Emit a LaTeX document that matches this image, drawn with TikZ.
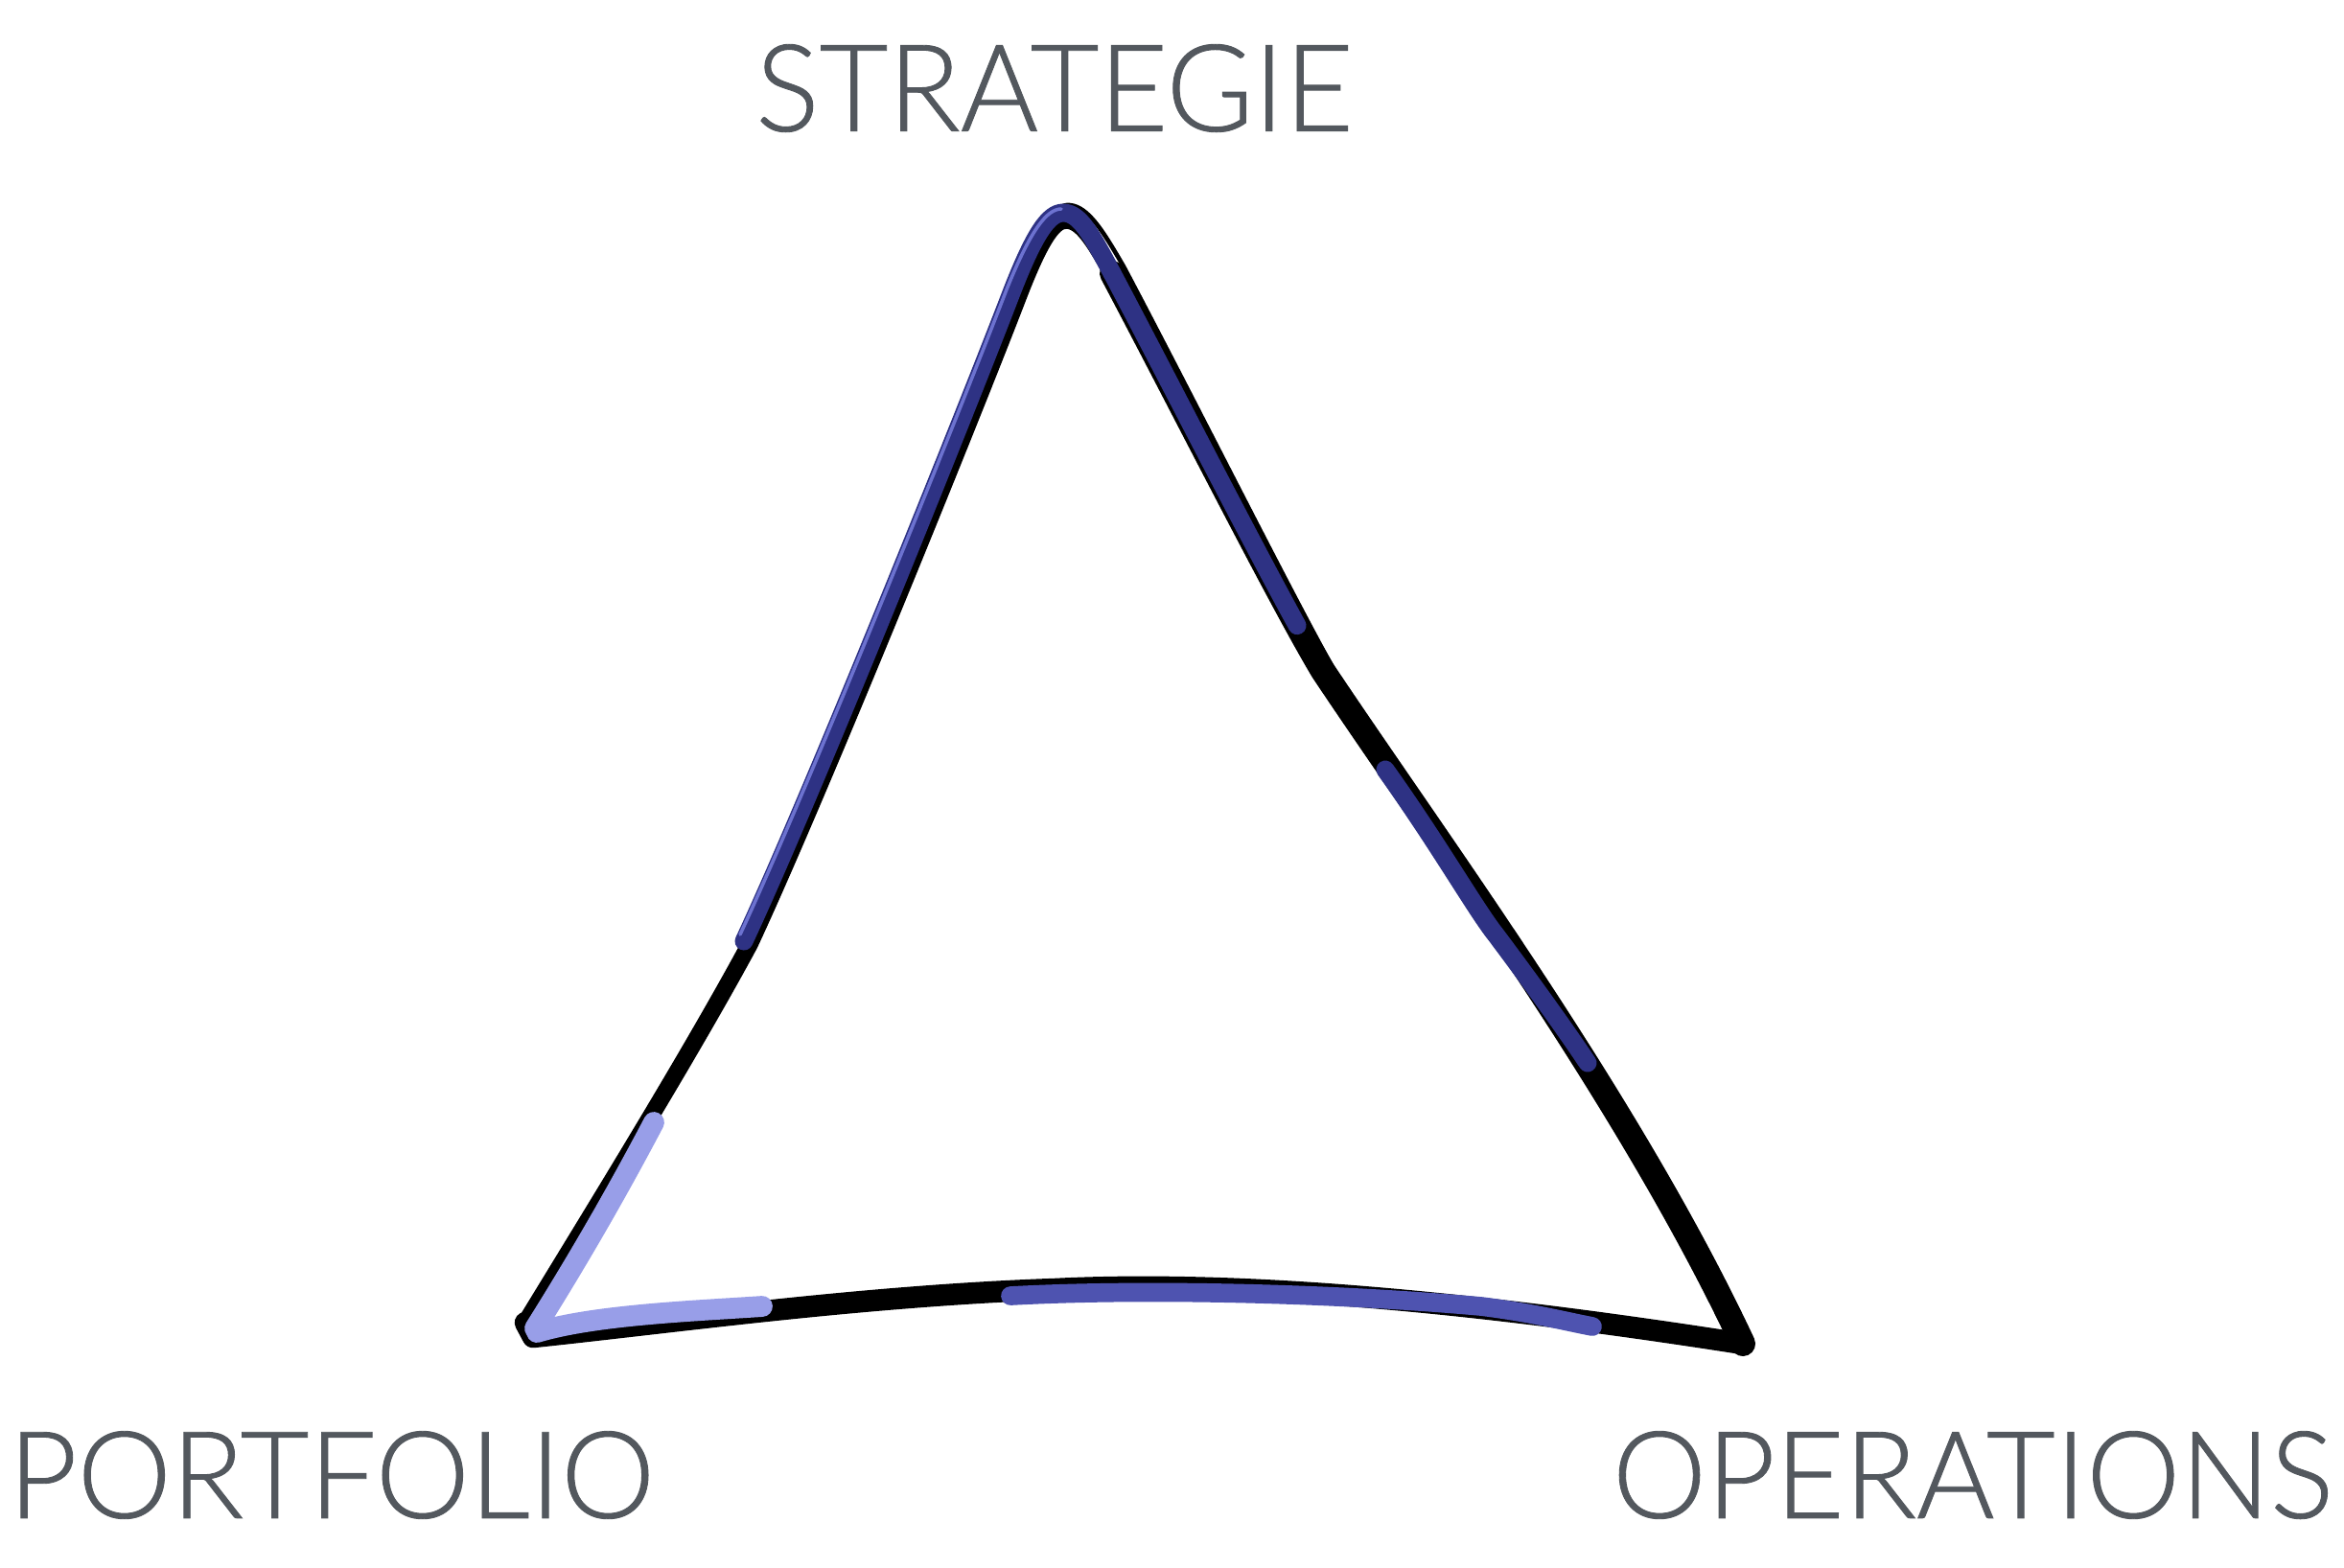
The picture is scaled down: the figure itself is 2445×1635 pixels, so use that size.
\documentclass[tikz,border=0pt]{standalone}
\usepackage{fontspec}
\setmainfont{Lato}[UprightFont=* Light, FakeBold=0.7]
\definecolor{txtgray}{RGB}{83,88,94}
\definecolor{penblue}{RGB}{46,50,132}
\definecolor{glossblue}{RGB}{108,114,208}
\definecolor{midblue}{RGB}{78,83,176}
\definecolor{lightblue}{RGB}{152,158,232}
\tikzset{
  lbl/.style={text=txtgray, font=\fontsize{36}{40}\selectfont, inner sep=0pt, anchor=center},
  ink/.style={draw=black, line width=#1, line cap=round, line join=round},
  ink/.default=5pt,
  inkthin/.style={draw=black, line width=1.3pt, line cap=round, line join=round},
  hilite/.style={draw=penblue, line width=5.4pt, line cap=round, line join=round},
  gloss/.style={draw=glossblue, line width=1pt, line cap=round, line join=round},
  hilitemid/.style={draw=midblue, line width=5.6pt, line cap=round, line join=round},
  hilitelight/.style={draw=lightblue, line width=6.2pt, line cap=round, line join=round}
}
\begin{document}
\begin{tikzpicture}[x=0.01cm,y=-0.01cm]
\useasboundingbox (0,0) rectangle (2445,1635);
\fill[white] (0,0) rectangle (2445,1635);
% labels
\node[lbl] (strat) at (1100,92) {\scalebox{0.98}[1]{STRATEGIE}};
\node[lbl] (port) at (346,1539) {\scalebox{0.98}[1]{PORTFOLIO}};
\node[lbl] (oper) at (2058,1539) {\scalebox{0.98}[1]{OPERATIONS}};
% corners and joints
\coordinate (lc) at (548,1380);
\coordinate (lm) at (782,985);
\coordinate (lt) at (1062,310);
\coordinate (apex) at (1112,230);
\coordinate (rt) at (1160,285);
\coordinate (rm) at (1380,700);
\coordinate (rc) at (1818,1402);
\coordinate (bm) at (1100,1345);
\coordinate (lb) at (556,1395);
% black ink triangle: left edge and apex
\draw[ink=5pt] (lc) .. controls (620,1262) and (720,1100) .. (lm)
  .. controls (852,835) and (1012,440) .. (lt)
  .. controls (1087,245) and (1100,230) .. (apex)
  .. controls (1128,230) and (1140,250) .. (rt);
% right edge
\draw[ink=7.4pt] (rt) .. controls (1233,423) and (1335,625) .. (rm)
  .. controls (1500,880) and (1700,1150) .. (rc);
% base
\draw[ink=6.4pt] (rc) .. controls (1550,1360) and (1300,1335) .. (bm)
  .. controls (900,1352) and (700,1380) .. (lb) -- (lc);
% thin outer pencil line near the apex
\draw[inkthin] (1040,335) .. controls (1080,240) and (1098,212) .. (1116,214)
  .. controls (1135,216) and (1150,240) .. (1172,278)
  .. controls (1245,416) and (1347,620) .. (1392,700);
% dark blue highlights
\draw[hilite] (776,982) .. controls (846,832) and (1004,438) .. (1054,308)
  .. controls (1079,243) and (1094,222) .. (1109,222)
  .. controls (1126,222) and (1138,244) .. (rt);
\draw[hilite, dash pattern=on 4.15cm off 20cm] (rt) .. controls (1233,423) and (1335,625) .. (rm);
\draw[gloss] (772,975) .. controls (842,825) and (1000,432) .. (1050,302)
  .. controls (1075,240) and (1092,218) .. (1107,218);
\draw[hilite] (1445,803) .. controls (1500,880) and (1540,950) .. (1560,975)
  .. controls (1590,1015) and (1630,1070) .. (1656,1109);
% light blue at the lower left corner
\draw[hilitelight] (682,1171) .. controls (652,1228) and (612,1300) .. (558,1386);
\draw[hilitelight] (560,1390) .. controls (620,1372) and (720,1368) .. (795,1363);
% mid blue along the base
\draw[hilitemid] (1054,1352) .. controls (1200,1344) and (1400,1350) .. (1545,1363)
  .. controls (1600,1370) and (1630,1378) .. (1661,1384);
\end{tikzpicture}
\end{document}
